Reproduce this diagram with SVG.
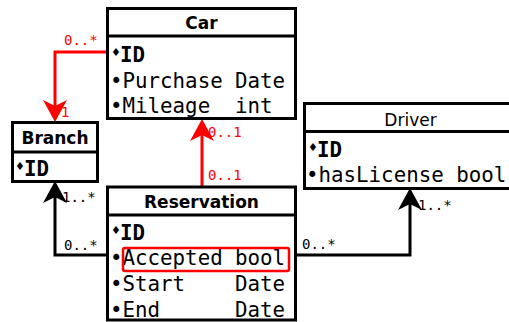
<svg xmlns="http://www.w3.org/2000/svg" width="509" height="322" viewBox="0 0 509 322">
<defs>
<style>
.box{fill:#fff;stroke:#000;stroke-width:3}
.sep{stroke:#000;stroke-width:3}
.title{font-family:"DejaVu Sans",sans-serif;font-size:17px;font-weight:bold;text-anchor:middle}
.titlen{font-family:"DejaVu Sans",sans-serif;font-size:17px;text-anchor:middle}
.row{font-family:"DejaVu Sans Mono",monospace;font-size:20.8px}
.key{font-family:"DejaVu Sans Mono",monospace;font-size:20.8px;font-weight:bold}
.dia{font-family:"DejaVu Sans",sans-serif;font-size:11px}
.lblr{font-family:"DejaVu Sans Mono",monospace;font-size:14px;fill:#f00}
.lblk{font-family:"DejaVu Sans Mono",monospace;font-size:14px;fill:#000}
.cr{fill:none;stroke:#f00;stroke-width:3}
.ck{fill:none;stroke:#000;stroke-width:3}
</style>
</defs>
<g id="connectors">
<polyline class="cr" points="107,52 55,52 55,110"/>
<polygon fill="#f00" points="55,122 43,100 55,106 67,100"/>
<text class="lblr" x="64" y="45">0..*</text>
<text class="lblr" x="61" y="117">1</text>
<polyline class="cr" points="202,187 202,132"/>
<polygon fill="#f00" points="202,119 190,141 202,135 214,141"/>
<text class="lblr" x="208" y="137">0..1</text>
<text class="lblr" x="208" y="180">0..1</text>
<polyline class="ck" points="107,255 55,255 55,194"/>
<polygon fill="#000" points="55,181 43,203 55,197 67,203"/>
<text class="lblk" x="62" y="202">1..*</text>
<text class="lblk" x="64" y="250">0..*</text>
<polyline class="ck" points="295,255 410,255 410,200"/>
<polygon fill="#000" points="410,188 398,210 410,204 422,210"/>
<text class="lblk" x="302" y="249">0..*</text>
<text class="lblk" x="418" y="210">1..*</text>
</g>
<g id="car">
<rect class="box" x="107.5" y="8.5" width="188" height="110"/>
<line class="sep" x1="107.5" y1="36" x2="295.5" y2="36"/>
<text class="title" x="201.5" y="29">Car</text>
<text class="dia" x="111" y="56">♦</text>
<text class="key" x="120" y="61.5">ID</text>
<text class="row" x="110" y="87.5">•Purchase</text>
<text class="row" x="235" y="87.5">Date</text>
<text class="row" x="110" y="113">•Mileage</text>
<text class="row" x="235" y="113">int</text>
</g>
<g id="branch">
<rect class="box" x="12.5" y="122.5" width="85" height="59"/>
<line class="sep" x1="12.5" y1="152" x2="97.5" y2="152"/>
<text class="title" x="55" y="144">Branch</text>
<text class="dia" x="15" y="170">♦</text>
<text class="key" x="24" y="175.5">ID</text>
</g>
<g id="reservation">
<rect class="box" x="107.5" y="187" width="188" height="133"/>
<line class="sep" x1="107.5" y1="215" x2="295.5" y2="215"/>
<text class="title" x="201.5" y="208">Reservation</text>
<text class="dia" x="111" y="234">♦</text>
<text class="key" x="120" y="239.5">ID</text>
<text class="row" x="110" y="265">•Accepted</text>
<text class="row" x="235" y="265">bool</text>
<text class="row" x="110" y="291">•Start</text>
<text class="row" x="235" y="291">Date</text>
<text class="row" x="110" y="316.5">•End</text>
<text class="row" x="235" y="316.5">Date</text>
<rect x="123" y="248" width="166" height="23" rx="2" fill="none" stroke="#f00" stroke-width="2.5"/>
</g>
<g id="driver">
<rect class="box" x="304.5" y="103.5" width="215" height="85"/>
<line class="sep" x1="304.5" y1="131.5" x2="519" y2="131.5"/>
<text class="titlen" x="410.5" y="126">Driver</text>
<text class="dia" x="308" y="151">♦</text>
<text class="key" x="317" y="156.5">ID</text>
<text class="row" x="306" y="182">•hasLicense bool</text>
</g>
</svg>
